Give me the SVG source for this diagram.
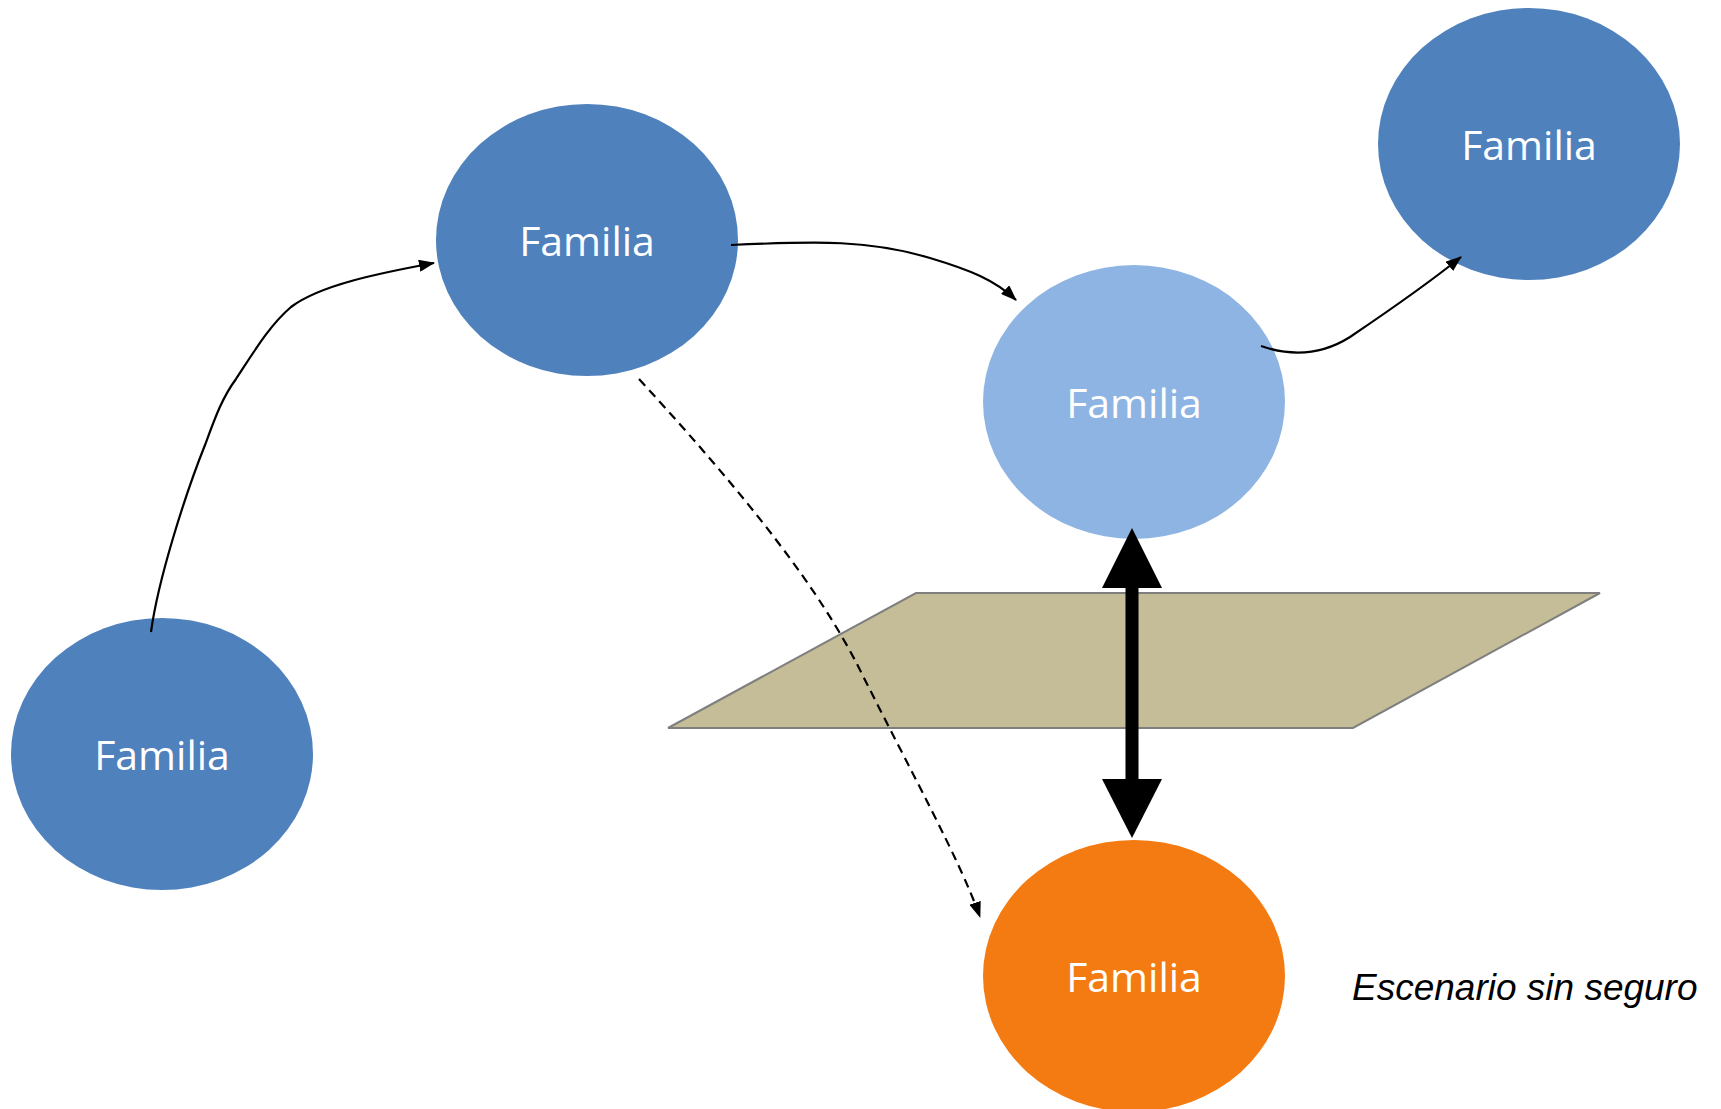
<svg xmlns="http://www.w3.org/2000/svg" width="1721" height="1109" viewBox="0 0 1721 1109">
<style>
.lbl{font-family:"Open Sans","Liberation Sans",sans-serif;font-size:41px;fill:#ffffff;text-anchor:middle}
.con{fill:none;stroke:#000;stroke-width:2.2}
.dash{stroke-dasharray:9 6}
</style>
<defs>
<marker id="ah" markerUnits="userSpaceOnUse" markerWidth="16" markerHeight="12" refX="15" refY="6" orient="auto">
<path d="M0,0 L16,6 L0,12 Z" fill="#000"/>
</marker>
</defs>
<rect width="1721" height="1109" fill="#ffffff"/>
<g id="plane">
<polygon points="668,728 916,593 1600,593 1353,728" fill="#C4BD97" stroke="#7F7F7F" stroke-width="2"/>
</g>
<g id="node1">
<ellipse cx="162" cy="754" rx="151" ry="136" fill="#4F81BD"/>
<text class="lbl" x="162" y="770">Familia</text>
</g>
<g id="node2">
<ellipse cx="587" cy="240" rx="151" ry="136" fill="#4F81BD"/>
<text class="lbl" x="587" y="256">Familia</text>
</g>
<g id="node3">
<ellipse cx="1134" cy="402" rx="151" ry="137" fill="#8EB4E3"/>
<text class="lbl" x="1134" y="418">Familia</text>
</g>
<g id="node4">
<ellipse cx="1529" cy="144" rx="151" ry="136" fill="#4F81BD"/>
<text class="lbl" x="1529" y="160">Familia</text>
</g>
<g id="node5">
<ellipse cx="1134" cy="976" rx="151" ry="136" fill="#F47A12"/>
<text class="lbl" x="1134" y="992">Familia</text>
</g>
<g id="connectors">
<path class="con" d="M151,632 C158,580 185,495 205,445 C215,418 222,398 236,379 C255,350 270,325 291,307 C320,285 380,273 434,263" marker-end="url(#ah)"/>
<path class="con" d="M731,245 C820,241 870,240 930,258 C970,270 995,280 1016,300" marker-end="url(#ah)"/>
<path class="con" d="M1261,346 C1290,356 1320,356 1350,337 C1390,310 1430,282 1461,257" marker-end="url(#ah)"/>
<path class="con dash" d="M639,379 C750,500 820,590 860,670 C910,770 960,860 980,917" marker-end="url(#ah)"/>
<g id="double-arrow">
<rect x="1125.5" y="585" width="13" height="197" fill="#000"/>
<polygon points="1132,528 1162,588 1102,588" fill="#000"/>
<polygon points="1132,838 1162,779 1102,779" fill="#000"/>
</g>
</g>
<text x="1352" y="1000" font-family="Liberation Sans, Arial, sans-serif" font-style="italic" font-size="37" fill="#000">Escenario sin seguro</text>
</svg>
